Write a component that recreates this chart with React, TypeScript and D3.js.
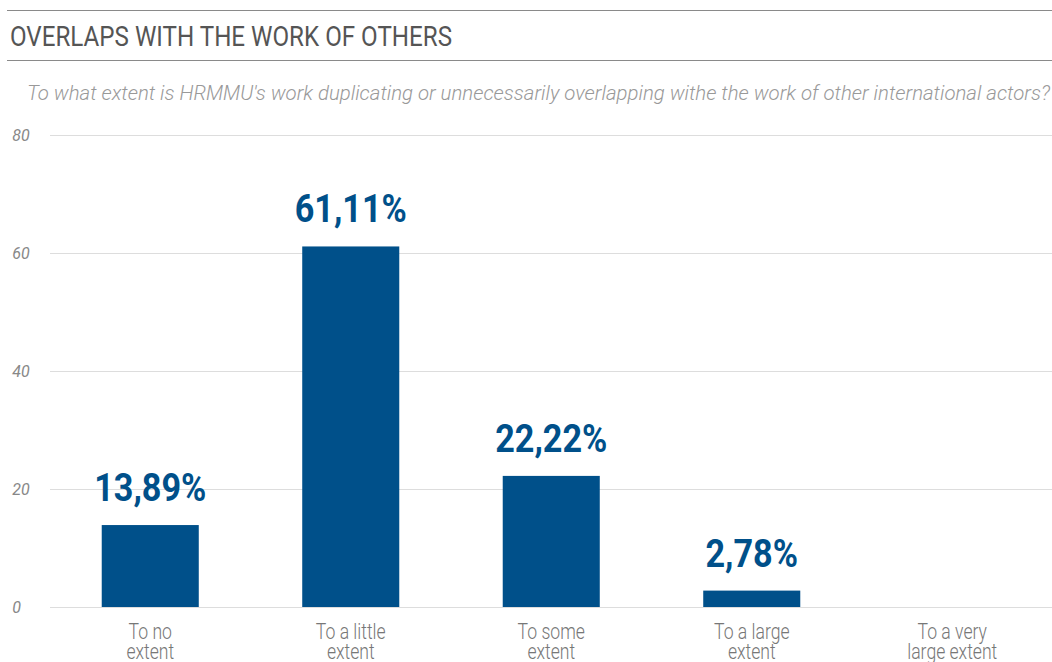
import React from "react";
import * as d3 from "d3";

const title = "OVERLAPS WITH THE WORK OF OTHERS";
const subtitle =
  "To what extent is HRMMU's work duplicating or unnecessarily overlapping withe the work of other international actors?";
const categories = [
  "To no extent",
  "To a little extent",
  "To some extent",
  "To a large extent",
  "To a very large extent",
];
const categoryLines = [
  ["To no", "extent"],
  ["To a little", "extent"],
  ["To some", "extent"],
  ["To a large", "extent"],
  ["To a very", "large extent"],
];
const values: (number | null)[] = [13.89, 61.11, 22.22, 2.78, null];
const valueLabels = ["13,89%", "61,11%", "22,22%", "2,78%", ""];
const yTicks = [0, 20, 40, 60, 80];

const W = 1052;
const H = 662;
const BLUE = "#00508a";
const FONT = "Roboto, 'Noto Sans', sans-serif";

export default function App() {
  const x = d3
    .scaleBand<string>()
    .domain(categories)
    .range([50, 1052.5])
    .paddingInner(0.516)
    .paddingOuter(0.258);
  const y = d3.scaleLinear().domain([0, 80]).range([607, 135]);

  return (
    <svg
      width={W}
      height={H}
      style={{ position: "absolute", left: 0, top: 0, background: "#fff" }}
      fontFamily={FONT}
    >
      <line x1={7} x2={W} y1={10.5} y2={10.5} stroke="#8a8a8a" strokeWidth={1.2} />
      <line x1={7} x2={W} y1={60.5} y2={60.5} stroke="#8a8a8a" strokeWidth={1.2} />
      <text
        x={10}
        y={46}
        fontSize={27}
        fill="#555"
        textLength={442}
        lengthAdjust="spacingAndGlyphs"
      >
        {title}
      </text>
      <text
        x={27}
        y={100}
        fontSize={21}
        fontStyle="italic"
        fontWeight={300}
        fill="#999"
        textLength={1023}
        lengthAdjust="spacingAndGlyphs"
      >
        {subtitle}
      </text>

      {yTicks.map((t) => (
        <g key={t}>
          <line x1={50} x2={W} y1={y(t) + 0.5} y2={y(t) + 0.5} stroke="#dddddd" strokeWidth={1} />
          <text
            x={11}
            y={y(t) + 6}
            fontSize={16}
            fontStyle="italic"
            fill="#888"
            transform={`translate(${11 * 0.12},0)`}
          >
            <tspan>{t}</tspan>
          </text>
        </g>
      ))}

      {categories.map((c, i) => {
        const v = values[i];
        const bx = x(c)!;
        const bw = x.bandwidth();
        const cx = bx + bw / 2;
        return (
          <g key={c}>
            {v != null && (
              <>
                <rect x={bx} y={y(v)} width={bw} height={y(0) - y(v)} fill={BLUE} />
                <g transform={`translate(${cx},${y(v) - 24}) scale(0.9,1)`}>
                  <text textAnchor="middle" fontSize={38} fontWeight={700} fill={BLUE}>
                    {valueLabels[i]}
                  </text>
                </g>
              </>
            )}
            {categoryLines[i].map((ln, j) => (
              <g key={j} transform={`translate(${cx},${639 + j * 20}) scale(0.8,1)`}>
                <text textAnchor="middle" fontSize={22} fontWeight={300} fill="#777">
                  {ln}
                </text>
              </g>
            ))}
          </g>
        );
      })}
    </svg>
  );
}
